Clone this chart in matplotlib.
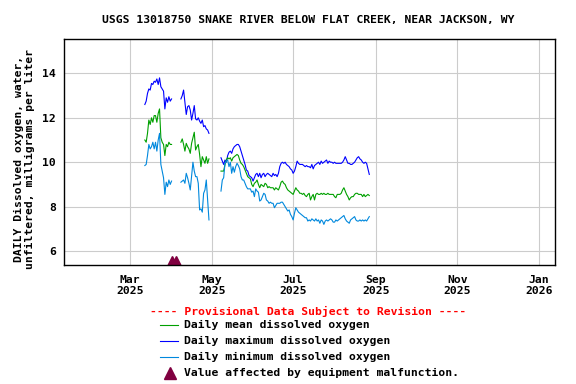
import matplotlib
matplotlib.use("Agg")
import matplotlib.pyplot as plt
import matplotlib.dates as mdates
from matplotlib.lines import Line2D
import pandas as pd

# daily dissolved oxygen, mg/L, three runs of data with gaps between them
start_mar = "2025-03-12"
start_apr = "2025-04-08"
start_summer = "2025-05-08"

mean_mar = [11.0, 10.9, 11.3, 11.9, 11.7, 12.0, 11.8, 12.1, 12.1, 11.8,
            12.2, 12.4, 11.1, 10.9, 10.8, 10.3, 10.8, 10.7, 10.9, 10.8, 10.8]
max_mar = [12.6, 12.75, 13.1, 13.3, 13.25, 13.55, 13.5, 13.65, 13.6, 13.75,
           13.5, 13.8, 13.4, 13.3, 13.2, 12.4, 12.9, 12.7, 12.95, 12.75, 12.85]
min_mar = [9.85, 9.9, 10.3, 10.8, 10.6, 10.7, 10.9, 10.6, 10.9, 10.5,
           11.0, 11.3, 9.9, 9.6, 9.3, 8.55, 9.1, 8.9, 9.2, 9.0, 9.15]

mean_apr = [10.9, 11.05, 10.8, 10.5, 10.85, 10.7, 10.6, 10.4, 10.85, 11.1,
            11.35, 10.55, 10.7, 10.8, 10.35, 9.8, 10.25, 10.1, 9.95, 10.25,
            9.95, 10.15]
max_apr = [12.85, 13.0, 13.25, 12.7, 12.15, 12.5, 12.55, 12.35, 11.9, 12.2,
           12.55, 11.95, 11.9, 12.0, 11.85, 11.75, 11.9, 11.6, 11.65, 11.5,
           11.45, 11.3]
min_apr = [9.1, 9.15, 9.2, 9.05, 9.5, 9.3, 9.05, 8.75, 9.35, 10.0,
           9.6, 9.35, 9.35, 9.05, 7.85, 7.9, 7.75, 8.6, 8.75, 9.2,
           8.3, 7.4]

mean_summer = [9.6, 9.6, 9.6, 9.9, 10.1, 10.2, 10.15, 10.2, 10.05, 10.2,
               10.25, 10.3, 10.35, 10.3, 10.1, 9.95, 9.9, 9.8, 9.65, 9.5,
               9.35, 9.3, 9.25, 9.0, 8.9, 9.05, 9.1, 9.2, 9.0, 8.85,
               9.0, 8.95, 8.9, 9.05, 9.0, 8.85, 8.9, 8.85, 8.85, 8.85,
               8.75, 8.85, 8.8, 8.75, 8.9, 9.1, 9.15, 9.05, 9.0, 8.85,
               8.75, 8.7, 8.65, 8.6, 8.55, 8.7, 8.85, 8.75, 8.7, 8.6,
               8.6, 8.55, 8.6, 8.5, 8.45, 8.55, 8.6, 8.3, 8.45, 8.55,
               8.3, 8.55, 8.6, 8.55, 8.55, 8.6, 8.55, 8.6, 8.55, 8.55,
               8.6, 8.55, 8.55, 8.55, 8.55, 8.45, 8.4, 8.55, 8.55, 8.55,
               8.6, 8.75, 8.85, 8.7, 8.55, 8.45, 8.3, 8.4, 8.45, 8.45,
               8.55, 8.6, 8.6, 8.55, 8.55, 8.55, 8.45, 8.55, 8.45, 8.5,
               8.55, 8.5]
max_summer = [10.2, 10.05, 9.9, 10.1, 10.0, 10.3, 10.45, 10.5, 10.4, 10.6,
              10.7, 10.75, 10.8, 10.8, 10.7, 10.5, 10.3, 10.1, 9.9, 9.65,
              9.6, 9.4, 9.35, 9.3, 9.15, 9.3, 9.45, 9.5, 9.35, 9.5,
              9.3, 9.45, 9.5, 9.35, 9.45, 9.5, 9.45, 9.4, 9.35, 9.5,
              9.4, 9.45, 9.35, 9.5, 9.8, 9.95, 10.0, 9.95, 10.0, 9.9,
              9.85, 9.8, 9.7, 9.65, 9.5, 9.6, 9.8, 10.05, 9.95, 9.9,
              9.9, 9.9, 9.85, 9.8, 9.85, 9.8, 9.8, 9.75, 9.9, 9.7,
              9.85, 9.9, 9.95, 10.0, 9.9, 10.05, 9.95, 10.0, 10.05, 10.1,
              9.95, 10.05, 10.0, 10.0, 9.95, 10.0, 9.95, 9.95, 9.95, 9.95,
              9.95, 10.0, 10.1, 10.25, 10.1, 9.95, 9.95, 9.9, 9.9, 9.95,
              10.0, 10.1, 10.2, 10.25, 10.15, 10.1, 10.0, 9.95, 10.0, 9.95,
              9.7, 9.45]
min_summer = [8.7, 9.2, 9.3, 9.95, 10.05, 10.1, 9.8, 10.0, 9.5, 9.8,
              9.55, 9.8, 9.95, 9.85, 9.7, 9.35, 9.2, 9.2, 9.05, 8.9,
              8.8, 8.8, 8.8, 8.65, 8.7, 8.45, 8.8, 8.7, 8.65, 8.25,
              8.3, 8.45, 8.6, 8.55, 8.3, 8.25, 8.15, 8.2, 8.15, 8.15,
              7.95, 8.05, 8.15, 8.15, 8.15, 8.2, 8.2, 8.1, 8.0, 7.9,
              7.8, 7.85, 7.65, 7.55, 7.4, 7.7, 7.95, 7.85, 7.75, 7.7,
              7.65, 7.6, 7.55, 7.5, 7.5, 7.35, 7.4, 7.35, 7.45, 7.4,
              7.35, 7.45, 7.35, 7.4, 7.25, 7.4, 7.35, 7.2, 7.35, 7.4,
              7.35, 7.4, 7.45, 7.4, 7.3, 7.3, 7.4, 7.35, 7.4, 7.45,
              7.5, 7.55, 7.6, 7.45, 7.35, 7.3, 7.25, 7.4, 7.45, 7.5,
              7.55, 7.4, 7.35, 7.35, 7.4, 7.35, 7.4, 7.35, 7.4, 7.35,
              7.45, 7.55]

# equipment malfunction flags
flag_dates = ["2025-04-01", "2025-04-04"]
flag_values = [5.5, 5.5]

tick_dates = ["2025-03-01", "2025-05-01", "2025-07-01",
              "2025-09-01", "2025-11-01", "2026-01-01"]
tick_labels = ["Mar\n2025", "May\n2025", "Jul\n2025",
               "Sep\n2025", "Nov\n2025", "Jan\n2026"]
y_ticks = [6, 8, 10, 12, 14]

mean_color = "#00A000"
max_color = "#0000FF"
min_color = "#0088DD"
flag_color = "#800040"


def series(parts):
    # join runs into one daily series, NaN in the gaps so the line breaks
    s = pd.concat([pd.Series(v, index=pd.date_range(d, periods=len(v), freq="D"))
                   for d, v in parts])
    return s.reindex(pd.date_range(s.index[0], s.index[-1], freq="D"))


mean_s = series([(start_mar, mean_mar), (start_apr, mean_apr), (start_summer, mean_summer)])
max_s = series([(start_mar, max_mar), (start_apr, max_apr), (start_summer, max_summer)])
min_s = series([(start_mar, min_mar), (start_apr, min_apr), (start_summer, min_summer)])

font = "DejaVu Sans Mono"
fs = 8.2

fig = plt.figure(figsize=(5.76, 3.84), dpi=100)
ax = fig.add_axes([64 / 576, 1 - 265 / 384, 491 / 576, 226 / 384])

ax.plot(max_s.index, max_s.values, color=max_color, lw=0.8)
ax.plot(mean_s.index, mean_s.values, color=mean_color, lw=0.8)
ax.plot(min_s.index, min_s.values, color=min_color, lw=0.8)
ax.plot(pd.to_datetime(flag_dates), flag_values, ls="none", marker="^",
        ms=8, color=flag_color)

ax.set_xlim(pd.Timestamp("2025-01-10 12:00"), pd.Timestamp("2026-01-13"))
ax.set_ylim(5.37, 15.55)
ax.set_xticks(mdates.date2num(pd.to_datetime(tick_dates)))
ax.set_xticklabels(tick_labels, fontfamily=font, fontweight="bold",
                   fontsize=fs, linespacing=1.1)
ax.set_yticks(y_ticks)
ax.set_yticklabels([str(v) for v in y_ticks], fontfamily=font,
                   fontweight="bold", fontsize=fs)
ax.tick_params(axis="x", length=0, pad=7)
ax.tick_params(axis="y", length=0, pad=6)
ax.grid(True, color="#CCCCCC", lw=0.8)
ax.set_axisbelow(True)
for sp in ax.spines.values():
    sp.set_linewidth(1.0)

txt = dict(fontfamily=font, fontweight="bold", fontsize=fs)
fig.text(308 / 576, 1 - 20 / 384,
         "USGS 13018750 SNAKE RIVER BELOW FLAT CREEK, NEAR JACKSON, WY",
         ha="center", va="center", **txt)
fig.text(19 / 576, 1 - 159 / 384, "DAILY Dissolved oxygen, water,",
         rotation=90, ha="center", va="center", **txt)
fig.text(29.5 / 576, 1 - 159 / 384, "unfiltered, milligrams per liter",
         rotation=90, ha="center", va="center", **txt)

# legend below the plot
fig.text(308 / 576, 1 - 311 / 384,
         "---- Provisional Data Subject to Revision ----",
         ha="center", va="center", color="red", **txt)
rows = [("Daily mean dissolved oxygen", mean_color, 325),
        ("Daily maximum dissolved oxygen", max_color, 341),
        ("Daily minimum dissolved oxygen", min_color, 357)]
for label, c, y in rows:
    yf = 1 - y / 384
    fig.add_artist(Line2D([160 / 576, 178 / 576], [yf, yf],
                          transform=fig.transFigure, color=c, lw=0.8))
    fig.text(183.5 / 576, yf, label, ha="left", va="center", **txt)
yf = 1 - 373 / 384
fig.add_artist(Line2D([169.5 / 576], [yf], transform=fig.transFigure,
                      marker="^", ms=8, color=flag_color, ls="none"))
fig.text(183.5 / 576, yf, "Value affected by equipment malfunction.",
         ha="left", va="center", **txt)

fig.savefig("out.png", dpi=100)
